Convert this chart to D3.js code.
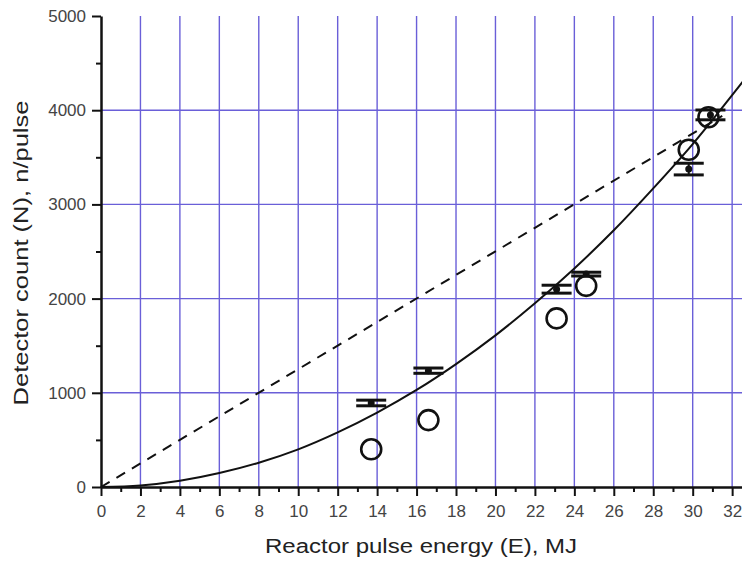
<!DOCTYPE html>
<html lang="en">
<head>
<meta charset="UTF-8">
<title>Detector count vs reactor pulse energy</title>
<script src="https://d3js.org/d3.v7.min.js"></script>
<style>
    body { margin: 0; padding: 0; background: #fff; font-family: Arial, 'Liberation Sans', sans-serif; }
    .grid line { stroke: #6a5fd8; stroke-width: 1.4px; }
    .axis path, .axis line { stroke: #111; }
    .axis text { fill: #444; font-size: 17px; font-family: Arial, 'Liberation Sans', sans-serif; }
    .label { fill: #222; font-size: 20px; }
</style>
</head>
<body>
<svg width="742" height="563"></svg>
<script>
    // measured points (open circles)
    var circE = [13.7, 16.6, 23.1, 24.6, 29.8, 30.8];
    var circN = [400, 710, 1790, 2135, 3580, 3925];

    // error bar points
    var barE = [13.7, 16.6, 23.1, 24.6, 29.8, 30.9];
    var barN = [892, 1235, 2100, 2260, 3375, 3950];
    var barErr = [30, 28, 42, 20, 62, 52];

    // solid fitted curve
    var fitE = [0, 2, 4, 6, 8, 10, 12, 14, 16, 18, 20, 22, 24, 26, 28, 30, 32, 32.6];
    var fitN = [0, 16, 66, 148, 258, 400, 580, 790, 1030, 1305, 1610, 1950, 2320, 2725, 3170, 3640, 4160, 4320];

    // dashed line
    var dashE = [0, 31.5];
    var dashN = [0, 3940];

    var xTicks = d3.range(0, 33, 2);
    var yTicks = [0, 1000, 2000, 3000, 4000, 5000];

    var svg = d3.select("svg");
    var x = d3.scaleLinear().domain([0, 32.5]).range([101, 742]);
    var y = d3.scaleLinear().domain([0, 5000]).range([487, 16]);

    // grid
    var grid = svg.append("g").attr("class", "grid");
    grid.selectAll(".v").data(xTicks.filter(function(d) { return d > 0; }))
        .enter().append("line")
        .attr("x1", function(d) { return x(d); }).attr("x2", function(d) { return x(d); })
        .attr("y1", y(0)).attr("y2", y(5000));
    grid.selectAll(".h").data([1000, 2000, 3000, 4000])
        .enter().append("line")
        .attr("x1", x(0)).attr("x2", 742)
        .attr("y1", function(d) { return y(d); }).attr("y2", function(d) { return y(d); });

    // minor ticks
    var minorX = d3.range(1, 33, 2);
    var minorY = [500, 1500, 2500, 3500, 4500];

    svg.append("g").attr("class", "axis")
        .attr("transform", "translate(0," + y(0) + ")")
        .call(d3.axisBottom(x).tickValues(minorX).tickSize(5).tickFormat(""))
        .call(function(g) { g.select(".domain").remove(); g.selectAll("line").attr("stroke-width", 2); });
    svg.append("g").attr("class", "axis")
        .attr("transform", "translate(" + x(0) + ",0)")
        .call(d3.axisLeft(y).tickValues(minorY).tickSize(5).tickFormat(""))
        .call(function(g) { g.select(".domain").remove(); g.selectAll("line").attr("stroke-width", 2); });

    // major axes
    var xAxis = svg.append("g").attr("class", "axis")
        .attr("transform", "translate(0," + y(0) + ")")
        .call(d3.axisBottom(x).tickValues(xTicks).tickFormat(d3.format("d"))
            .tickSize(9).tickSizeOuter(0).tickPadding(9));
    xAxis.select(".domain").attr("stroke-width", 2.5);
    xAxis.selectAll("line").attr("stroke-width", 2);

    var yAxis = svg.append("g").attr("class", "axis")
        .attr("transform", "translate(" + x(0) + ",0)")
        .call(d3.axisLeft(y).tickValues(yTicks).tickFormat(d3.format("d"))
            .tickSize(9).tickSizeOuter(0).tickPadding(6));
    yAxis.select(".domain").attr("stroke-width", 2.5);
    yAxis.selectAll("line").attr("stroke-width", 2);

    // curves
    var line = d3.line().x(function(d) { return x(d[0]); }).y(function(d) { return y(d[1]); });

    svg.append("path")
        .datum(d3.zip(dashE, dashN))
        .attr("d", line)
        .attr("fill", "none").attr("stroke", "#111").attr("stroke-width", 2)
        .attr("stroke-dasharray", "10,8");

    svg.append("path")
        .datum(d3.zip(fitE, fitN))
        .attr("d", line.curve(d3.curveMonotoneX))
        .attr("fill", "none").attr("stroke", "#111").attr("stroke-width", 2);

    // error bars
    var bars = svg.selectAll(".bar").data(d3.zip(barE, barN, barErr))
        .enter().append("g").attr("class", "bar");
    bars.append("line")
        .attr("x1", function(d) { return x(d[0]); }).attr("x2", function(d) { return x(d[0]); })
        .attr("y1", function(d) { return y(d[1] - d[2]); }).attr("y2", function(d) { return y(d[1] + d[2]); })
        .attr("stroke", "#111").attr("stroke-width", 2);
    [-1, 1].forEach(function(s) {
        bars.append("line")
            .attr("x1", function(d) { return x(d[0]) - 15; }).attr("x2", function(d) { return x(d[0]) + 15; })
            .attr("y1", function(d) { return y(d[1] + s * d[2]); }).attr("y2", function(d) { return y(d[1] + s * d[2]); })
            .attr("stroke", "#111").attr("stroke-width", 3);
    });
    bars.append("circle")
        .attr("cx", function(d) { return x(d[0]); }).attr("cy", function(d) { return y(d[1]); })
        .attr("r", 3.5).attr("fill", "#111");

    // open circles
    svg.selectAll(".pt").data(d3.zip(circE, circN))
        .enter().append("circle").attr("class", "pt")
        .attr("cx", function(d) { return x(d[0]); }).attr("cy", function(d) { return y(d[1]); })
        .attr("r", 10).attr("fill", "none").attr("stroke", "#111").attr("stroke-width", 2.6);

    // axis labels
    svg.append("text").attr("class", "label")
        .attr("x", 421).attr("y", 553).attr("text-anchor", "middle")
        .attr("textLength", 312).attr("lengthAdjust", "spacingAndGlyphs")
        .text("Reactor pulse energy (E), MJ");
    svg.append("text").attr("class", "label")
        .attr("transform", "translate(28,253) rotate(-90)").attr("text-anchor", "middle")
        .attr("textLength", 305).attr("lengthAdjust", "spacingAndGlyphs")
        .text("Detector count (N), n/pulse");
</script>
</body>
</html>
